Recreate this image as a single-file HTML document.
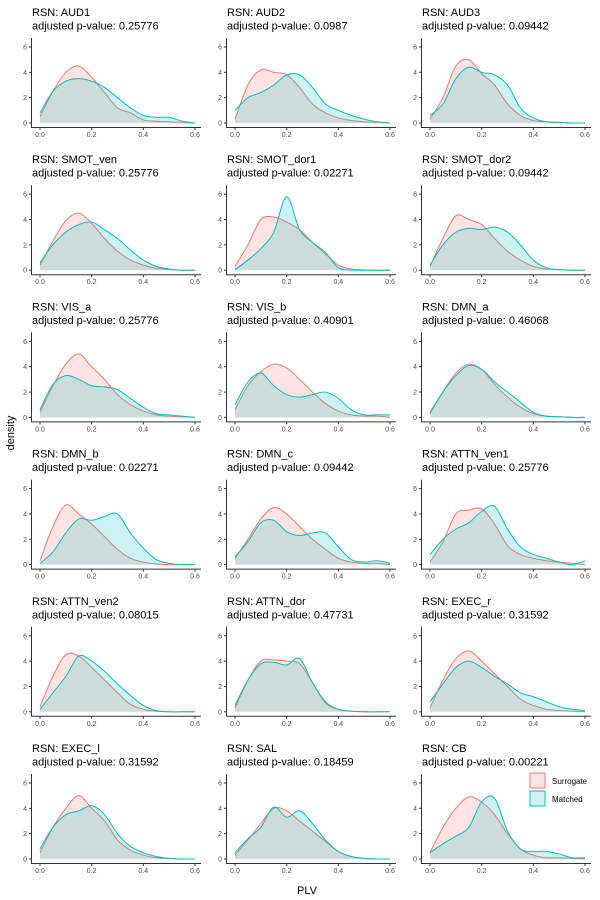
<!DOCTYPE html>
<html><head><meta charset="utf-8">
<style>
body{margin:0;background:#fff;}
svg{display:block;font-family:"Liberation Sans",sans-serif;}
</style></head>
<body>
<svg id="chart" width="600" height="900" viewBox="0 0 600 900">
<text x="14" y="433" font-size="11" fill="#000" transform="rotate(-90 14 433)" text-anchor="middle">density</text>
<text x="307" y="894" font-size="11" fill="#000" text-anchor="middle">PLV</text>
<g>
<rect x="530" y="773" width="15" height="15" fill="rgba(248,118,109,0.2)" stroke="#F8766D"/>
<text x="552" y="784" font-size="8" fill="#000">Surrogate</text>
<rect x="530" y="791" width="15" height="15" fill="rgba(0,191,196,0.2)" stroke="#00BFC4"/>
<text x="552" y="802" font-size="8" fill="#000">Matched</text>
</g>
</svg>
<script>
const xGrid=[0,0.05,0.1,0.15,0.2,0.25,0.3,0.35,0.4,0.45,0.5,0.55,0.6];
const xTicks=["0.0","0.2","0.4","0.6"];
const yTicks=[0,2,4,6];
const rsnNames=["AUD1","AUD2","AUD3","SMOT_ven","SMOT_dor1","SMOT_dor2","VIS_a","VIS_b","DMN_a","DMN_b","DMN_c","ATTN_ven1","ATTN_ven2","ATTN_dor","EXEC_r","EXEC_l","SAL","CB"];
const pValues=["0.25776","0.0987","0.09442","0.25776","0.02271","0.09442","0.25776","0.40901","0.46068","0.02271","0.09442","0.25776","0.08015","0.47731","0.31592","0.31592","0.18459","0.00221"];
const surrogate=[
[0.5,2.5,4.0,4.5,3.6,2.4,1.2,0.8,0.25,0.15,0.1,0.03,0],
[0.3,3.0,4.2,4.0,3.8,2.8,1.5,0.8,0.4,0.2,0.1,0.05,0],
[0.3,2.0,4.5,5.0,3.9,3.0,1.5,0.6,0.2,0.1,0.05,0,0],
[0.4,2.3,3.9,4.5,3.7,2.5,1.5,0.8,0.4,0.15,0.05,0,0],
[0.3,2.0,4.0,4.2,3.8,3.2,2.2,1.3,0.4,0.1,0.03,0,0],
[0.3,2.5,4.3,4.0,3.6,2.5,1.5,0.8,0.3,0.1,0.05,0,0],
[0.4,2.5,4.2,5.0,4.0,3.0,1.8,1.0,0.5,0.2,0.1,0.05,0],
[0.6,2.5,3.6,4.2,3.9,3.0,2.0,1.1,0.5,0.2,0.1,0.1,0],
[0.3,2.0,3.5,4.2,3.8,2.6,1.6,0.8,0.3,0.1,0.05,0,0],
[0.3,3.0,4.7,4.0,3.2,2.2,1.2,0.5,0.2,0.05,0,0,0],
[0.5,2.0,3.6,4.5,4.0,3.0,2.0,1.2,0.5,0.2,0.1,0.1,0],
[0.2,1.8,4.0,4.3,4.4,3.2,1.5,0.8,0.5,0.3,0.2,0.1,0],
[0.4,2.8,4.5,4.4,3.5,2.5,1.5,0.6,0.2,0.05,0,0,0],
[0.3,2.5,4.0,4.1,4.0,3.8,2.3,0.7,0.2,0.05,0,0,0],
[0.3,2.5,4.2,4.8,4.0,3.0,2.0,1.0,0.5,0.2,0.1,0.05,0],
[0.5,2.5,4.0,5.0,4.0,3.0,1.5,0.7,0.3,0.1,0.05,0,0],
[0.3,1.5,2.8,4.0,3.8,3.0,2.2,1.4,0.6,0.2,0.05,0,0],
[0.5,2.5,4.0,4.9,4.5,3.5,2.0,0.8,0.3,0.1,0.1,0.05,0]];
const matched=[
[0.8,2.5,3.3,3.5,3.3,2.8,2.0,1.2,0.6,0.45,0.45,0.15,0],
[1.0,2.0,2.4,3.0,3.8,3.8,2.8,1.5,1.0,0.6,0.3,0.1,0],
[0.6,1.5,3.5,4.4,4.0,3.8,3.0,1.2,0.4,0.1,0.05,0,0],
[0.6,2.0,3.0,3.6,3.8,3.2,2.5,1.6,0.8,0.3,0.1,0,0],
[0.05,0.8,1.7,3.0,5.8,3.2,2.2,1.4,0.2,0.02,0,0,0],
[0.4,2.0,3.0,3.3,3.2,3.4,3.0,2.0,0.8,0.2,0.05,0,0],
[0.6,2.6,3.3,3.0,2.5,2.4,2.2,1.5,0.8,0.3,0.2,0.1,0],
[1.0,2.8,3.5,2.5,1.8,1.6,1.8,2.0,1.5,0.6,0.2,0.2,0.2],
[0.4,2.0,3.3,4.1,3.8,2.8,2.0,1.2,0.4,0.1,0.05,0,0],
[0.1,1.0,2.5,3.6,3.5,3.8,4.0,2.5,1.3,0.4,0.1,0,0],
[0.6,1.8,3.3,3.5,2.6,2.3,2.5,2.5,1.4,0.4,0.2,0.3,0.1],
[0.8,2.0,2.8,3.3,4.2,4.6,2.8,1.4,0.8,0.5,0.2,0,0.3],
[0.2,1.5,2.8,4.4,4.0,3.2,2.2,1.3,0.5,0.1,0,0,0],
[0.5,2.5,3.8,3.9,3.7,4.2,2.3,0.8,0.2,0.05,0,0,0],
[0.8,2.2,3.5,4.0,3.5,2.8,2.2,1.5,1.2,0.8,0.4,0.2,0.1],
[0.8,2.5,3.5,3.8,4.2,3.5,2.0,1.0,0.5,0.2,0.05,0,0],
[0.5,1.6,2.5,4.1,3.3,3.8,2.8,1.5,0.6,0.2,0.05,0,0],
[0.5,1.2,1.8,2.5,4.5,4.8,2.2,0.8,0.6,0.6,0.4,0.1,0.1]];

const NS="http://www.w3.org/2000/svg";
const svg=document.getElementById('chart');
function mk(tag,attrs,parent){const e=document.createElementNS(NS,tag);for(const k in attrs)e.setAttribute(k,attrs[k]);parent.appendChild(e);return e;}
function smooth(pts){
  let d=`M${pts[0][0]},${pts[0][1]}`;
  for(let i=0;i<pts.length-1;i++){
    const p0=pts[Math.max(0,i-1)],p1=pts[i],p2=pts[i+1],p3=pts[Math.min(pts.length-1,i+2)];
    const c1x=p1[0]+(p2[0]-p0[0])/6,c1y=p1[1]+(p2[1]-p0[1])/6;
    const c2x=p2[0]-(p3[0]-p1[0])/6,c2y=p2[1]-(p3[1]-p1[1])/6;
    d+=` C${c1x},${c1y} ${c2x},${c2y} ${p2[0]},${p2[1]}`;
  }
  return d;
}
rsnNames.forEach((name,i)=>{
  const col=i%3,row=Math.floor(i/3);
  const ox=col*195,oy=row*147.2;
  const ax0=ox+31;
  const xs=v=>ax0+9+v/0.6*155;
  const ys=v=>oy+123-v*12.67;
  const g=mk('g',{},svg);
  
  
  const t1=mk('text',{x:ax0+1,y:oy+16,'font-size':11,fill:'#000'},g);
  t1.textContent='RSN: '+name;
  
  
  const t2=mk('text',{x:ax0+1,y:oy+29.5,'font-size':11,fill:'#000'},g);
  t2.textContent='adjusted p-value: '+pValues[i];
  
  
  [[surrogate[i],'#F8766D','rgba(248,118,109,0.2)','surrogate'],[matched[i],'#00BFC4','rgba(0,191,196,0.2)','matched']].forEach(([vals,c,f,nm])=>{
    const pts=vals.map((v,k)=>[xs(xGrid[k]),ys(v)]);
    const line=smooth(pts);
    const area=mk('path',{d:line+` L${pts[pts.length-1][0]},${ys(0)} L${pts[0][0]},${ys(0)} Z`,fill:f,stroke:'none'},g);
    
    
    const l=mk('path',{d:line,fill:'none',stroke:c,'stroke-width':1},g);
    
    
  });
  const ax=mk('path',{d:`M${ax0+0.5},${oy+38} V${oy+127.5} H${ax0+170}`,fill:'none',stroke:'#333','stroke-width':1},g);
  
  
  yTicks.forEach(v=>{
    mk('line',{x1:ax0-2,x2:ax0+0.5,y1:ys(v),y2:ys(v),stroke:'#333'},g);
    const tt=mk('text',{x:ax0-4,y:ys(v)+2.5,'font-size':7,fill:'#4d4d4d','text-anchor':'end'},g);
    tt.textContent=v;
    
    
  });
  xTicks.forEach(s=>{
    const x=xs(parseFloat(s));
    mk('line',{x1:x,x2:x,y1:oy+127.5,y2:oy+130,stroke:'#333'},g);
    const tt=mk('text',{x:x,y:oy+137,'font-size':7,fill:'#4d4d4d','text-anchor':'middle'},g);
    tt.textContent=s;
    
    
  });
});
</script>
</body></html>
